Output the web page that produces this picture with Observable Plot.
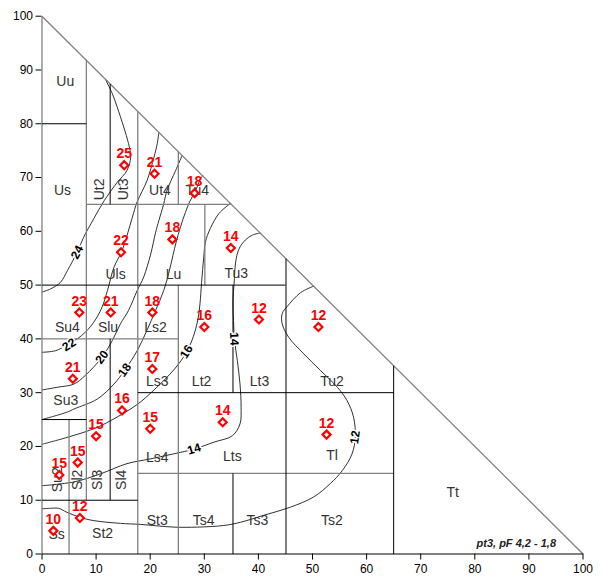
<!DOCTYPE html>
<html><head><meta charset="utf-8">
<script src="https://cdn.jsdelivr.net/npm/d3@7"></script>
<script src="https://cdn.jsdelivr.net/npm/@observablehq/plot@0.6"></script>
<style>body{margin:0;background:#fff} svg{display:block}</style>
</head><body><div id="chart"></div>
<script>
// axis ticks (% clay on x, % silt on y)
const ticks = [0,10,20,30,40,50,60,70,80,90,100];

// soil-class boundaries [x1,y1,x2,y2]
const grayBounds = [
  [0,100,100,0],[0,0,0,100],[5,0,5,25],[8.2,10,8.2,91.8],[17.7,0,17.7,82.3],
  [17.7,15,65,15],[25.2,0,25.2,50],[25.2,65,25.2,74.8],[8.2,65,35,65],
  [30.1,50,30.1,65],[0,40,25.2,40]
];
const blackBounds = [
  [0,0,100,0],[0,10,17.7,10],[0,25,8.2,25],[12.6,10,12.6,40],[12.6,65,12.6,87.4],
  [17.7,30,65,30],[0,50,45,50],[0,80,8.2,80],[35.3,0,35.3,15],[35.3,30,35.3,50],
  [45.1,0,45.1,54.9],[65,0,65,35]
];

// isolines [x,y]
const c24 = [[0,48.7],[1.6,49.3],[3.4,50.5],[4.7,52.7],[6.5,56.1],[7.7,58.9],[9.6,62.4],[11.5,65.7],[13.9,69.1],[15.7,71.3],[16.4,73.8],[16.0,76.3],[15.1,79.4],[13.9,83.1],[13.0,85.6],[11.7,88.3]];
const c22 = [[0,37.5],[2.5,37.8],[4.5,38.8],[7.3,40.6],[9.5,43.0],[11.1,45.9],[12.1,49.0],[13.3,53.3],[14.8,56.4],[15.8,59.5],[16.7,62.6],[17.6,65.5],[19.4,69.4],[20.7,73.8],[21.3,76.3],[21.6,78.4]];
const c20 = [[0,30.5],[2.8,31.0],[5.9,31.6],[8.0,33.2],[11.1,36.6],[13.0,39.7],[14.5,42.8],[16.0,45.3],[17.6,49.0],[18.8,51.5],[20.1,55.8],[21.0,59.8],[21.6,62.0],[22.5,65.1],[23.1,67.6],[24.7,71.3],[25.9,74.1]];
const c18 = [[0,25],[4.7,26.4],[6.0,27.0],[10.2,28.8],[13.3,31.6],[15.3,34.2],[17.6,37.8],[19.4,41.6],[21.0,45.3],[22.5,49.0],[23.4,52.1],[24.2,55.5],[24.8,58.0],[25.6,60.8],[26.5,63.5],[27.3,65.5],[28.4,67.6],[29.3,69.8],[29.7,70.3]];
const c16 = [[0,20.4],[4.7,21.7],[9.6,23.3],[12.7,24.8],[17.6,27.8],[20.7,30.5],[24.5,34.4],[26.7,37.5],[28.0,40.5],[28.8,43.5],[29.2,46.5],[29.5,50.5],[29.9,55.2],[30.2,58.0],[31.1,60.5],[32.7,63.3],[34.8,65.2]];
const c14 = [[0,12.7],[5.9,13.4],[10.8,14.9],[15.7,16.8],[20.1,17.7],[25.6,18.9],[28.1,19.5],[31.8,20.8],[35.2,22.0],[36.6,24.2],[36.8,27.3],[36.6,31.6],[36.1,36.0],[35.6,39.7],[35.4,43.4],[35.3,47.1],[35.5,50.2],[35.8,54.3],[36.4,56.7],[37.6,58.4],[38.9,59.3],[40.3,59.7]];
const c12 = [[0,8.4],[1.6,8.5],[3.1,8.5],[4.5,7.8],[7.1,6.8],[9.6,6.2],[14.5,5.7],[18.2,5.5],[24.4,5.0],[28.7,5.0],[33.6,5.3],[36.7,5.9],[41.0,7.2],[45.9,8.7],[50.2,10.6],[53.3,13.1],[55.5,15.5],[57.3,18.6],[57.9,21.7],[57.6,25.4],[56.4,28.5],[54.6,31.0],[51.5,34.1],[48.4,37.2],[45.6,40.3],[44.4,42.8],[44.4,44.7],[45.3,46.0],[47.8,48.6],[50.2,49.8]];
const isoLevels = ["24","22","20","18","16","14","12"];
const isoLines = [c24,c22,c20,c18,c16,c14,c12];

// isoline labels
const isoLabelText = ["24","22","20","18","16","14","14","12"];
const isoLabelX = [6.5,5.0,11.1,15.3,26.7,28.1,35.5,57.9];
const isoLabelY = [56.1,38.9,36.6,34.2,37.6,19.5,40.0,21.7];
const isoLabelAngle = [-62,-33,-52,-55,-58,-17,88,-82];

// measured points
const ptValue = [25,21,18,22,18,14,23,21,18,16,12,12,21,17,16,15,14,12,15,15,15,12,10];
const ptX = [15.2,20.8,28.2,14.6,24.1,34.9,6.9,12.7,20.4,30.0,40.1,51.1,5.7,20.4,14.8,20.0,33.4,52.6,10.0,6.6,3.2,7.0,2.1];
const ptY = [72.3,70.7,67.1,56.1,58.5,56.9,44.9,44.9,44.9,42.2,43.6,42.2,32.6,34.4,26.7,23.3,24.5,22.2,21.9,17.0,14.7,6.7,4.3];

// soil class labels
const clsName = ["Uu","Us","Ut4","Tu4","Uls","Lu","Tu3","Su4","Slu","Ls2","Lt2","Lt3","Tu2","Su3","Ls3","Ls4","Lts","Tl","Ss","St2","St3","Ts4","Ts3","Ts2","Tt"];
const clsX = [4.3,3.8,21.8,28.7,13.6,24.3,35.9,4.7,12.2,21.0,29.5,40.2,53.6,4.4,21.3,21.3,35.2,53.6,2.7,11.2,21.3,29.9,39.8,53.6,75.9];
const clsY = [87.9,67.6,67.6,67.6,52.0,52.0,52.2,42.1,42.1,42.1,32.1,32.1,32.1,28.5,32.1,18.0,18.2,18.3,3.6,3.8,6.2,6.2,6.2,6.2,11.5];
const clsVName = ["Ut2","Ut3","Su2","Sl2","Sl3","Sl4"];
const clsVX = [10.6,15.1,2.8,6.6,10.3,14.7];
const clsVY = [67.8,67.8,13.8,13.8,13.8,13.8];

const caption = "pt3, pF 4,2 - 1,8";

const seg = a => a.map(([x1,y1,x2,y2]) => ({x1,y1,x2,y2}));
const isoData = isoLines.flatMap((pts,i) => pts.map(([x,y]) => ({level: isoLevels[i], x, y})));
const isoLab = isoLabelText.map((t,i) => ({t, x: isoLabelX[i], y: isoLabelY[i], a: isoLabelAngle[i]}));
const pts = ptValue.map((v,i) => ({v, x: ptX[i], y: ptY[i]}));
const cls = clsName.map((n,i) => ({n, x: clsX[i], y: clsY[i]}));
const clsV = clsVName.map((n,i) => ({n, x: clsVX[i], y: clsVY[i]}));

const font = "Liberation Sans, Arial, sans-serif";
const chart = Plot.plot({
  width: 604, height: 578,
  marginLeft: 41.5, marginRight: 21.5, marginTop: 15.7, marginBottom: 24.5,
  style: {fontFamily: font, background: "#fff"},
  x: {domain: [0,100], ticks, tickSize: 6, tickPadding: 3, label: null},
  y: {domain: [0,100], ticks, tickSize: 6, tickPadding: 3, label: null},
  marks: [
    Plot.axisX({ticks, tickSize: 6, tickPadding: 4, fontSize: 12, label: null, color: "#000"}),
    Plot.axisY({ticks, tickSize: 6, tickPadding: 3, fontSize: 12, label: null, color: "#000"}),
    Plot.line(isoData, {x: "x", y: "y", z: "level", stroke: "#1a1a1a", strokeWidth: 0.9, curve: "catmull-rom"}),
    Plot.link(seg(grayBounds), {x1: "x1", y1: "y1", x2: "x2", y2: "y2", stroke: "#808080", strokeWidth: 1.3}),
    Plot.link(seg(blackBounds), {x1: "x1", y1: "y1", x2: "x2", y2: "y2", stroke: "#000", strokeWidth: 1}),
    Plot.text(isoLab, {x: "x", y: "y", text: "t", rotate: "a", fontSize: 12, fontWeight: "bold", fill: "#000", stroke: "#fff", strokeWidth: 3}),
    Plot.text(cls, {x: "x", y: "y", text: "n", fontSize: 14, fill: "#333"}),
    Plot.text(clsV, {x: "x", y: "y", text: "n", fontSize: 14, fill: "#333", rotate: -90}),
    Plot.dot(pts, {x: "x", y: "y", symbol: "diamond2", r: 3.6, stroke: "#ff0000", strokeWidth: 2.2, fill: "#fff"}),
    Plot.text(pts, {x: "x", y: "y", text: "v", dy: -11.5, fontSize: 14, fontWeight: "bold", fill: "#ff0000"}),
    Plot.text([caption], {frameAnchor: "bottom-right", dx: -27, dy: -7, textAnchor: "end", fontSize: 11, fontStyle: "italic", fontWeight: "bold", fill: "#222"})
  ]
});
document.getElementById("chart").appendChild(chart);
</script>
</body></html>
